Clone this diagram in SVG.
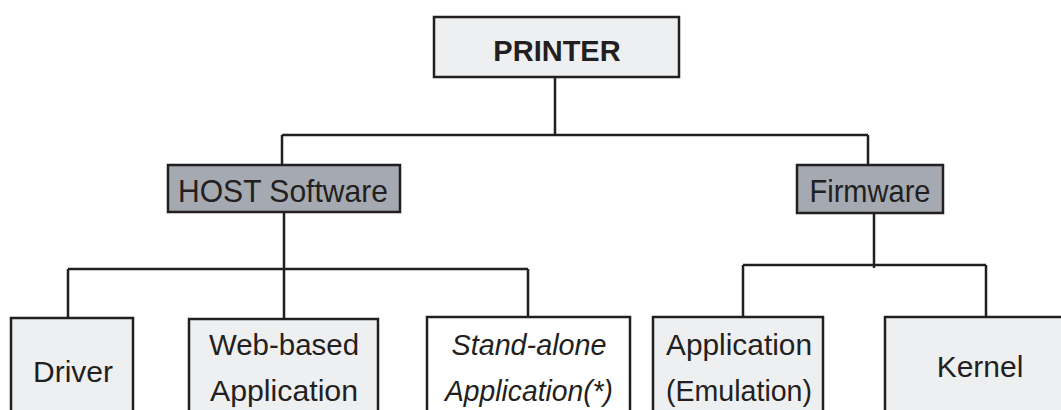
<svg xmlns="http://www.w3.org/2000/svg" width="1061" height="410" viewBox="0 0 1061 410">
<style>
.box{stroke:#231f20;stroke-width:2.5}
.lt{fill:#eeeff1}
.dk{fill:#a5a9b1}
.wh{fill:#ffffff}
.t{font-family:"Liberation Sans",Arial,sans-serif;fill:#231f20;text-anchor:middle}
.conn{stroke:#231f20;stroke-width:2.5;fill:none}
</style>
<rect x="0" y="0" width="1061" height="410" fill="#ffffff"/>
<g id="connectors">
<path class="conn" d="M555 77V135M282 135H868M282 135V165M868 135V165"/>
<path class="conn" d="M284 212V269M68 269H528M68 269V318M284 269V319M528 269V317"/>
<path class="conn" d="M874 213V268M743 265H986M743 265V317M986 265V317"/>
</g>
<g id="printer">
<rect class="box lt" x="434" y="17" width="245" height="60"/>
<text class="t" x="557" y="61" font-size="29" font-weight="bold">PRINTER</text>
</g>
<g id="host">
<rect class="box dk" x="168" y="165" width="232" height="47"/>
<text class="t" x="283" y="202" font-size="32" textLength="210" lengthAdjust="spacingAndGlyphs">HOST Software</text>
</g>
<g id="firmware">
<rect class="box dk" x="797" y="165" width="146" height="48"/>
<text class="t" x="870" y="202" font-size="32" textLength="121" lengthAdjust="spacingAndGlyphs">Firmware</text>
</g>
<g id="driver">
<rect class="box lt" x="11" y="318" width="122" height="110"/>
<text class="t" x="73" y="382" font-size="30">Driver</text>
</g>
<g id="web">
<rect class="box lt" x="189" y="319" width="189" height="110"/>
<text class="t" x="284" y="355" font-size="30" textLength="150" lengthAdjust="spacingAndGlyphs">Web-based</text>
<text class="t" x="284" y="401" font-size="30" textLength="148" lengthAdjust="spacingAndGlyphs">Application</text>
</g>
<g id="standalone">
<rect class="box wh" x="427" y="317" width="203" height="110"/>
<text class="t" x="529" y="355" font-size="30" font-style="italic" textLength="155" lengthAdjust="spacingAndGlyphs">Stand-alone</text>
<text class="t" x="529" y="401" font-size="30" font-style="italic" textLength="168" lengthAdjust="spacingAndGlyphs">Application(*)</text>
</g>
<g id="emulation">
<rect class="box lt" x="653" y="317" width="170" height="110"/>
<text class="t" x="739" y="355" font-size="30" textLength="146" lengthAdjust="spacingAndGlyphs">Application</text>
<text class="t" x="739" y="401" font-size="30" textLength="146" lengthAdjust="spacingAndGlyphs">(Emulation)</text>
</g>
<g id="kernel">
<rect class="box lt" x="885" y="317" width="190" height="110"/>
<text class="t" x="980" y="377" font-size="30">Kernel</text>
</g>
</svg>
